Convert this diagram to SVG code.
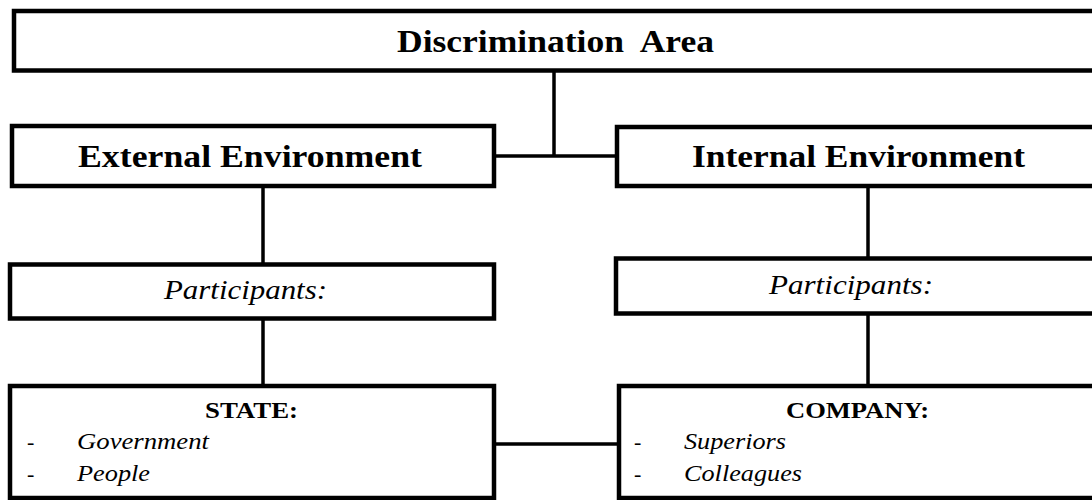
<svg xmlns="http://www.w3.org/2000/svg" width="1092" height="500" viewBox="0 0 1092 500">
  <style>
    .box { fill: #ffffff; stroke: #000000; stroke-width: 4.5; }
    .link { fill: none; stroke: #000000; stroke-width: 3.5; }
    .head { font-family: "Liberation Serif", "Times New Roman", serif; font-weight: bold; font-size: 32px; fill: #000000; }
    .part { font-family: "Liberation Serif", "Times New Roman", serif; font-style: italic; font-size: 28px; fill: #000000; }
    .title { font-family: "Liberation Serif", "Times New Roman", serif; font-weight: bold; font-size: 24px; fill: #000000; }
    .item { font-family: "Liberation Serif", "Times New Roman", serif; font-style: italic; font-size: 23px; fill: #000000; }
    .dash { font-family: "Liberation Serif", "Times New Roman", serif; font-size: 22px; fill: #000000; }
  </style>

  <!-- connectors -->
  <g id="connectors">
    <path class="link" d="M554,70 V156"/>
    <path class="link" d="M494,156 H617"/>
    <path class="link" d="M263,186 V264"/>
    <path class="link" d="M263,318 V386"/>
    <path class="link" d="M868,186 V259"/>
    <path class="link" d="M868,313 V386"/>
    <path class="link" d="M494,444 H619"/>
  </g>

  <g id="discrimination-area">
    <rect class="box" x="14" y="11" width="1100" height="59.5"/>
    <text class="head" x="397" y="52" textLength="317" lengthAdjust="spacingAndGlyphs" xml:space="preserve">Discrimination  Area</text>
  </g>

  <g id="external-environment">
    <rect class="box" x="12" y="126" width="482" height="60"/>
    <text class="head" x="78" y="167" textLength="344" lengthAdjust="spacingAndGlyphs">External Environment</text>
  </g>

  <g id="internal-environment">
    <rect class="box" x="617" y="127" width="500" height="59"/>
    <text class="head" x="692" y="167" textLength="333" lengthAdjust="spacingAndGlyphs">Internal Environment</text>
  </g>

  <g id="external-participants">
    <rect class="box" x="10" y="264.5" width="484" height="54"/>
    <text class="part" x="164" y="299" textLength="163" lengthAdjust="spacingAndGlyphs">Participants:</text>
  </g>

  <g id="internal-participants">
    <rect class="box" x="616" y="258.5" width="500" height="55"/>
    <text class="part" x="769" y="294" textLength="164" lengthAdjust="spacingAndGlyphs">Participants:</text>
  </g>

  <g id="state">
    <rect class="box" x="10" y="386" width="484" height="112"/>
    <text class="title" x="205" y="418" textLength="93" lengthAdjust="spacingAndGlyphs">STATE:</text>
    <text class="dash" x="27" y="449">-</text>
    <text class="item" x="77" y="449" textLength="132" lengthAdjust="spacingAndGlyphs">Government</text>
    <text class="dash" x="27" y="481">-</text>
    <text class="item" x="77" y="481" textLength="73" lengthAdjust="spacingAndGlyphs">People</text>
  </g>

  <g id="company">
    <rect class="box" x="619" y="386" width="500" height="112"/>
    <text class="title" x="786" y="418" textLength="143" lengthAdjust="spacingAndGlyphs">COMPANY:</text>
    <text class="dash" x="634" y="449">-</text>
    <text class="item" x="684" y="449" textLength="102" lengthAdjust="spacingAndGlyphs">Superiors</text>
    <text class="dash" x="634" y="481">-</text>
    <text class="item" x="684" y="481" textLength="118" lengthAdjust="spacingAndGlyphs">Colleagues</text>
  </g>
</svg>
